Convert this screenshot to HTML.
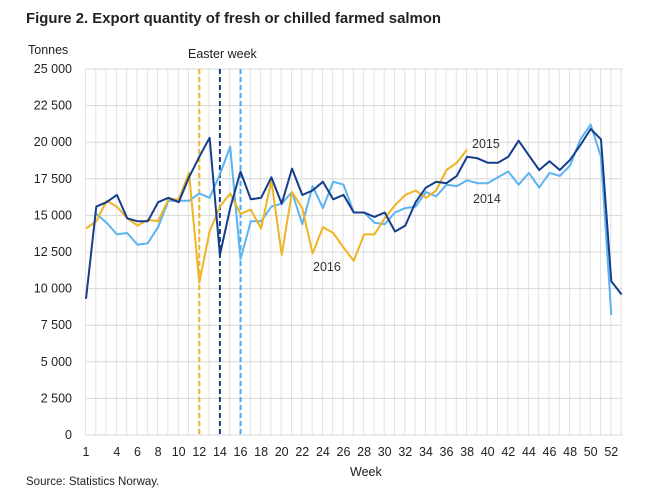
<!DOCTYPE html>
<html><head><meta charset="utf-8"><style>
body{margin:0;background:#fff;width:671px;height:489px;overflow:hidden;font-family:"Liberation Sans",sans-serif;}
</style></head><body>
<svg id="s" width="671" height="489" xmlns="http://www.w3.org/2000/svg" font-family="Liberation Sans, sans-serif">
<text x="26" y="23" font-size="15" font-weight="bold" fill="#222" textLength="415" lengthAdjust="spacingAndGlyphs">Figure 2. Export quantity of fresh or chilled farmed salmon</text>
<text x="28" y="54" font-size="12.5" fill="#222">Tonnes</text>
<text x="188" y="58" font-size="12.5" fill="#222">Easter week</text>
<text x="350" y="476" font-size="12.5" fill="#222">Week</text>
<text x="26" y="485" font-size="11.5" fill="#222">Source: Statistics Norway.</text>
<g id="g"></g>
</svg>
<script>
var NS="http://www.w3.org/2000/svg",g=document.getElementById('g');
function el(t,a,txt){var e=document.createElementNS(NS,t);for(var k in a)e.setAttribute(k,a[k]);if(txt!==undefined)e.textContent=txt;g.appendChild(e);return e;}
var X0=86,STEP=10.3,Y0=435,H=366;
function X(w){return X0+(w-1)*STEP;}
function Y(v){return Y0-v/25*H;}
for(var w=1;w<=53;w++){el('line',{x1:X(w)-0.5,x2:X(w)-0.5,y1:Y(25),y2:Y0,stroke:'#e2e2e2','stroke-width':1});}
for(var i=0;i<=10;i++){var v=i*2.5;el('line',{x1:X0,x2:X(53)+1,y1:Y(v),y2:Y(v),stroke:'#d8d8d8','stroke-width':1});
var lab=i==0?'0':Math.floor(v)+' '+String(Math.round((v%1)*1000)).padStart(3,'0');
el('text',{x:72,y:Y(v)+4,'text-anchor':'end','font-size':12.5,fill:'#222'},lab);}
var labs=[1,4,6,8,10,12,14,16,18,20,22,24,26,28,30,32,34,36,38,40,42,44,46,48,50,52];
labs.forEach(function(w){el('text',{x:X(w),y:456,'text-anchor':'middle','font-size':12.5,fill:'#222'},String(w));});
[[12,'#f0b323'],[14,'#143d8c'],[16,'#4ba9f0']].forEach(function(d){el('line',{x1:X(d[0]),x2:X(d[0]),y1:Y(25),y2:Y0,stroke:d[1],'stroke-width':2,'stroke-dasharray':'5,3'});});
var d15=[9.3,15.6,15.9,16.4,14.8,14.6,14.6,15.9,16.2,15.9,17.6,19,20.3,12.3,15.5,18,16.1,16.2,17.6,15.8,18.2,16.4,16.7,17.3,16.1,16.4,15.2,15.2,14.9,15.2,13.9,14.3,15.9,16.9,17.3,17.2,17.7,19.0,18.9,18.6,18.6,19.0,20.1,19.1,18.1,18.7,18.1,18.8,19.8,20.9,20.2,10.5,9.6];
var d14=[null,15.1,14.5,13.7,13.8,13.0,13.1,14.2,16.0,16.0,16.0,16.5,16.2,17.8,19.7,12.0,14.6,14.6,15.6,15.8,16.6,14.4,17.0,15.5,17.3,17.1,15.2,15.2,14.5,14.4,15.2,15.5,15.6,16.6,16.3,17.1,17.0,17.4,17.2,17.2,17.6,18.0,17.1,17.9,16.9,17.9,17.7,18.4,20.2,21.2,19.0,8.2];
var d16=[14.1,14.6,16.0,15.6,14.8,14.3,14.7,14.6,16.1,16.1,17.9,10.4,13.9,15.6,16.5,15.1,15.4,14.1,17.4,12.3,16.6,15.5,12.4,14.2,13.8,12.8,11.9,13.7,13.7,14.8,15.7,16.4,16.7,16.2,16.7,18.1,18.6,19.5];
function line(d,c){var p=[];d.forEach(function(v,i){if(v!==null)p.push(X(i+1).toFixed(1)+','+Y(v).toFixed(1));});el('polyline',{points:p.join(' '),fill:'none',stroke:c,'stroke-width':2,'stroke-linejoin':'round'});}
line(d14,'#5bb3f0');line(d16,'#f0b323');line(d15,'#143d8c');
el('text',{x:472,y:148,'font-size':12.5,fill:'#333'},'2015');
el('text',{x:473,y:203,'font-size':12.5,fill:'#333'},'2014');
el('text',{x:313,y:271,'font-size':12.5,fill:'#333'},'2016');
</script>
</body></html>
